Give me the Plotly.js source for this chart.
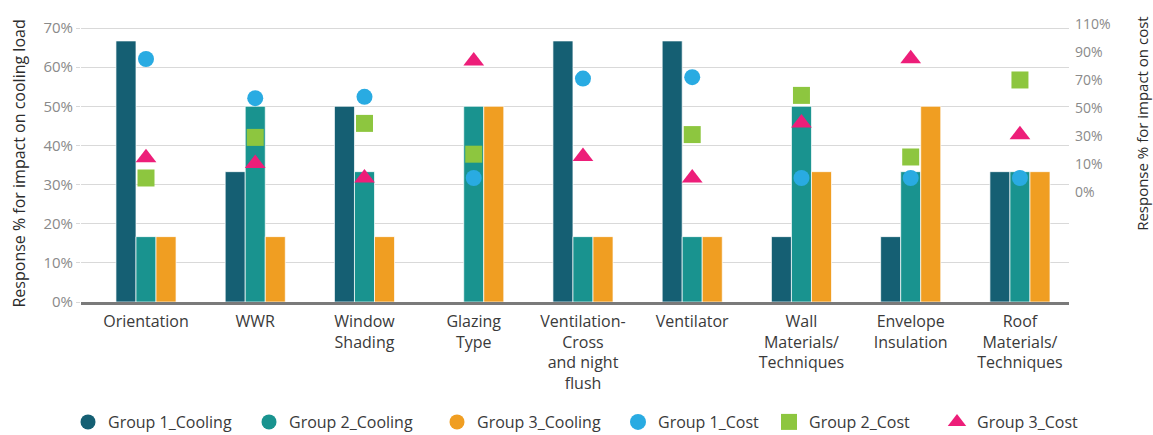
<!DOCTYPE html>
<html><head><meta charset="utf-8">
<script src="https://cdn.plot.ly/plotly-3.0.1.min.js"></script>
<style>html,body{margin:0;padding:0;background:#fff}#chart{width:1153px;height:435px}</style>
</head><body><div id="chart"></div>
<script>
const categories = ['Orientation','WWR','Window Shading','Glazing Type','Ventilation-Cross and night flush','Ventilator','Wall Materials/Techniques','Envelope Insulation','Roof Materials/Techniques'];
const categoryLabels = ['Orientation','WWR','Window<br>Shading','Glazing<br>Type','Ventilation-<br>Cross<br>and night<br>flush','Ventilator','Wall<br>Materials/<br>Techniques','Envelope<br>Insulation','Roof<br>Materials/<br>Techniques'];
const group1Cooling = [0.667,0.333,0.5,0,0.667,0.667,0.167,0.167,0.333];
const group2Cooling = [0.167,0.5,0.333,0.5,0.167,0.167,0.5,0.333,0.333];
const group3Cooling = [0.167,0.167,0.167,0.5,0.167,0.167,0.333,0.5,0.333];
const group1Cost = [85,57,58,0,71,72,0,0,0];
const group2Cost = [0,29,39,17,null,31,59,15,70];
const group3Cost = [14.5,10.4,0,83.6,15.4,0,39.2,85.2,30.9];
const leftTickVals = [0,0.1,0.2,0.3,0.4,0.5,0.6,0.7];
const rightTickVals = [-10,10,30,50,70,90,110];
const rightTickText = ['0%','10%','30%','50%','70%','90%','110%'];

const C1='#155f73', C2='#19938f', C3='#f09e22', K1='#29abe2', K2='#8dc63f', K3='#ed1e79';
const FONT='"Open Sans", sans-serif';
const barLine={color:'rgba(255,255,255,0.7)',width:1};

const data=[
 {type:'scatter',mode:'markers',x:[null],y:[null],name:'Group 1_Cooling',legendwidth:136,marker:{color:C1,size:15,symbol:'circle'},hoverinfo:'skip'},
 {type:'scatter',mode:'markers',x:[null],y:[null],name:'Group 2_Cooling',legendwidth:143,marker:{color:C2,size:15,symbol:'circle'},hoverinfo:'skip'},
 {type:'scatter',mode:'markers',x:[null],y:[null],name:'Group 3_Cooling',legendwidth:136,marker:{color:C3,size:15,symbol:'circle'},hoverinfo:'skip'},
 {type:'bar',x:categories,y:group1Cooling,name:'Group 1_Cooling',marker:{color:C1,line:barLine},showlegend:false},
 {type:'bar',x:categories,y:group2Cooling,name:'Group 2_Cooling',marker:{color:C2,line:barLine},showlegend:false},
 {type:'bar',x:categories,y:group3Cooling,name:'Group 3_Cooling',marker:{color:C3,line:barLine},showlegend:false},
 {type:'scatter',mode:'markers',x:categories,y:group1Cost,yaxis:'y2',name:'Group 1_Cost',legendwidth:106,marker:{color:K1,size:16,symbol:'circle',line:{width:0}}},
 {type:'scatter',mode:'markers',x:categories,y:group2Cost,yaxis:'y2',name:'Group 2_Cost',legendwidth:123,marker:{color:K2,size:17,symbol:'square',line:{width:0}}},
 {type:'scatter',mode:'markers',x:categories,y:group3Cost,yaxis:'y2',name:'Group 3_Cost',marker:{color:K3,size:18,symbol:'triangle-up',line:{width:0}}}
];

const layout={
 width:1153,height:435,
 margin:{l:81,r:84,t:23,b:133,pad:0,autoexpand:false},
 paper_bgcolor:'#fff',plot_bgcolor:'#fff',
 font:{family:FONT,color:'#3a3a3a',size:16},
 barmode:'group',bargap:0.45,bargroupgap:0,
 showlegend:true,
 legend:{orientation:'h',xref:'paper',yref:'paper',x:-13/988,xanchor:'left',y:-120/279,yanchor:'middle',font:{family:FONT,size:16,color:'#3a3a3a'},traceorder:'normal'},
 xaxis:{type:'category',automargin:false,range:[-0.595,8.449],tickmode:'array',tickvals:categories,ticktext:categoryLabels,
   showline:true,linecolor:'#7a7a7a',linewidth:2.5,showgrid:false,ticks:'',ticklabelstandoff:3,tickfont:{family:FONT,size:16,color:'#3a3a3a'},fixedrange:true},
 yaxis:{automargin:false,range:[0,0.7128],tickmode:'array',tickvals:leftTickVals,tickformat:'.0%',showgrid:true,gridcolor:'#d9d9d9',gridwidth:1,
   zeroline:false,ticks:'outside',ticklen:4,tickcolor:'#d9d9d9',tickfont:{family:FONT,size:15,color:'#8a8a8a'},fixedrange:true},
 yaxis2:{automargin:false,overlaying:'y',side:'right',range:[-88.57,110.7],tickmode:'array',tickvals:rightTickVals,ticktext:rightTickText,
   showgrid:false,zeroline:false,showline:false,ticks:'',ticklabelstandoff:5,tickfont:{family:FONT,size:14,color:'#8a8a8a'},fixedrange:true},
 annotations:[
  {text:'Response % for impact on cooling load',xref:'paper',yref:'paper',x:0,y:0.4946,xanchor:'center',yanchor:'middle',xshift:-61.5,textangle:-90,showarrow:false,font:{family:FONT,size:16,color:'#2b2b2b'}},
  {text:'Response % for impact on cost',xref:'paper',yref:'paper',x:1,y:0.641,xanchor:'center',yanchor:'middle',xshift:72.7,textangle:-90,showarrow:false,font:{family:FONT,size:15,color:'#2b2b2b'}}
 ]
};
Plotly.newPlot('chart',data,layout,{displayModeBar:false,staticPlot:true});
</script></body></html>
